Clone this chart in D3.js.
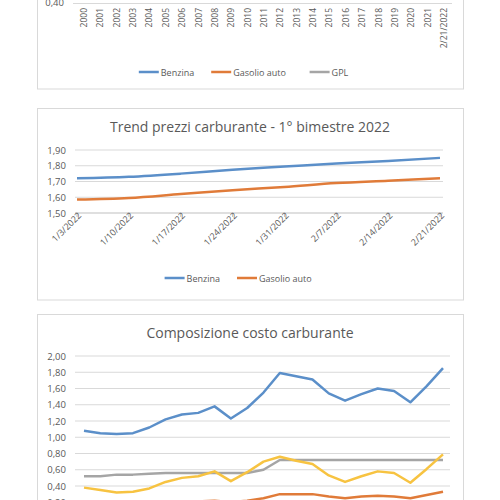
<!DOCTYPE html>
<html><head><meta charset="utf-8">
<script src="https://cdn.jsdelivr.net/npm/d3@7"></script>
<style>
body{margin:0;background:#fff;}
svg{display:block;font-family:"Open Sans","Liberation Sans",sans-serif;}
text{fill:#595959;}
</style></head>
<body><svg id="chart" width="500" height="500"></svg>
<script>
// chart 1 (only bottom visible)
const yearsAll = ['2000','2001','2002','2003','2004','2005','2006','2007','2008','2009','2010','2011','2012','2013','2014','2015','2016','2017','2018','2019','2020','2021','2/21/2022'];
// chart 2
const weeks = ['1/3/2022','1/10/2022','1/17/2022','1/24/2022','1/31/2022','2/7/2022','2/14/2022','2/21/2022'];
const benzinaWeek = [1.72,1.73,1.75,1.775,1.795,1.815,1.83,1.85];
const gasolioWeek = [1.585,1.595,1.62,1.645,1.665,1.69,1.705,1.72];
const ticks2 = [1.5,1.6,1.7,1.8,1.9];
// chart 3
const costBlue = [1.08,1.05,1.04,1.05,1.12,1.22,1.28,1.30,1.38,1.23,1.36,1.55,1.79,1.75,1.71,1.54,1.45,1.53,1.60,1.57,1.43,1.63,1.85];
const costGray = [0.52,0.52,0.54,0.54,0.55,0.56,0.56,0.56,0.56,0.56,0.56,0.60,0.72,0.72,0.72,0.72,0.72,0.72,0.72,0.72,0.72,0.72,0.72];
const costYellow = [0.38,0.35,0.32,0.33,0.37,0.45,0.50,0.52,0.58,0.46,0.57,0.70,0.76,0.71,0.67,0.53,0.45,0.52,0.58,0.56,0.44,0.61,0.79];
const costOrange = [0.20,0.19,0.18,0.18,0.19,0.20,0.21,0.21,0.22,0.20,0.22,0.25,0.30,0.30,0.30,0.27,0.25,0.27,0.28,0.27,0.25,0.29,0.33];
const ticks3 = [0.2,0.4,0.6,0.8,1.0,1.2,1.4,1.6,1.8,2.0];

const colors = {blue:'#5b8fc9', orange:'#e07b39', gray:'#a5a5a5', yellow:'#f7c341'};
const fmt = d3.format('.2f');
const comma = v => fmt(v).replace('.', ',');
const svg = d3.select('#chart');
const grid = '#d9d9d9';

// draw a box frame
const frame = (y0, y1) => svg.append('rect')
	.attr('x', 37.5).attr('y', y0).attr('width', 426).attr('height', y1 - y0)
	.attr('fill', '#fff').attr('stroke', '#d9d9d9');

// legend helper
const legend = (y, items) => {
	let widths = items.map(d => 22 + d.label.length * 5.2 + 14);
	let total = d3.sum(widths);
	let x = 250 - total / 2;
	items.forEach((d, i) => {
		svg.append('line').attr('x1', x).attr('x2', x + 20).attr('y1', y).attr('y2', y)
			.attr('stroke', d.color).attr('stroke-width', 2.5);
		svg.append('text').attr('x', x + 22).attr('y', y + 3.5)
			.attr('font-size', 9).text(d.label);
		x += widths[i];
	});
};

// ---- chart 1 ----
frame(-20, 89);
{
	const x = d3.scalePoint().domain(yearsAll).range([84, 444]);
	svg.append('line').attr('x1', 73).attr('x2', 452).attr('y1', 3.5).attr('y2', 3.5).attr('stroke', grid);
	svg.append('text').attr('x', 64).attr('y', 6).attr('text-anchor', 'end').attr('font-size', 9.5).text('0,40');
	svg.append('g').selectAll('text').data(yearsAll).join('text')
		.attr('transform', d => `translate(${x(d) + 3},8) rotate(-90)`)
		.attr('text-anchor', 'end').attr('font-size', 8.5).text(d => d);
	legend(72, [{label:'Benzina', color:colors.blue}, {label:'Gasolio auto', color:colors.orange}, {label:'GPL', color:colors.gray}]);
}

// ---- chart 2 ----
frame(108.5, 300);
{
	svg.append('text').attr('x', 250).attr('y', 132).attr('text-anchor', 'middle')
		.attr('font-size', 14).text('Trend prezzi carburante - 1° bimestre 2022');
	const x = d3.scalePoint().domain(weeks).range([77, 440]);
	const y = d3.scaleLinear().domain([1.5, 1.9]).range([213, 150]);
	svg.append('g').selectAll('line').data(ticks2).join('line')
		.attr('x1', 75).attr('x2', 443).attr('y1', d => y(d)).attr('y2', d => y(d))
		.attr('stroke', d => d === 1.5 ? '#bfbfbf' : grid);
	svg.append('g').selectAll('text').data(ticks2).join('text')
		.attr('x', 66).attr('y', d => y(d) + 3.5).attr('text-anchor', 'end').attr('font-size', 9.5)
		.text(comma);
	svg.append('g').selectAll('line').data(weeks).join('line')
		.attr('x1', d => x(d)).attr('x2', d => x(d)).attr('y1', 213).attr('y2', 217).attr('stroke', '#bfbfbf');
	svg.append('g').selectAll('text').data(weeks).join('text')
		.attr('transform', d => `translate(${x(d) + 5},216) rotate(-45)`)
		.attr('text-anchor', 'end').attr('font-size', 9).text(d => d);
	const line = d3.line().x((d, i) => x(weeks[i])).y(d => y(d)).curve(d3.curveMonotoneX);
	[[benzinaWeek, colors.blue], [gasolioWeek, colors.orange]].forEach(([s, c]) => {
		svg.append('path').attr('d', line(s)).attr('fill', 'none').attr('stroke', c).attr('stroke-width', 2.5);
	});
	legend(278, [{label:'Benzina', color:colors.blue}, {label:'Gasolio auto', color:colors.orange}]);
}

// ---- chart 3 ----
frame(314.5, 540);
{
	svg.append('text').attr('x', 250).attr('y', 338).attr('text-anchor', 'middle')
		.attr('font-size', 14).text('Composizione costo carburante');
	const x = d3.scalePoint().domain(yearsAll).range([84, 443]);
	const y = d3.scaleLinear().domain([0.4, 2.0]).range([486, 356]);
	svg.append('g').selectAll('line').data(ticks3).join('line')
		.attr('x1', 75).attr('x2', 450).attr('y1', d => y(d)).attr('y2', d => y(d)).attr('stroke', grid);
	svg.append('g').selectAll('text').data(ticks3).join('text')
		.attr('x', 66).attr('y', d => y(d) + 3.5).attr('text-anchor', 'end').attr('font-size', 9.5)
		.text(comma);
	const line = d3.line().x((d, i) => x(yearsAll[i])).y(d => y(d));
	[[costOrange, colors.orange], [costGray, colors.gray], [costYellow, colors.yellow], [costBlue, colors.blue]].forEach(([s, c]) => {
		svg.append('path').attr('d', line(s)).attr('fill', 'none').attr('stroke', c)
			.attr('stroke-width', 2.5).attr('stroke-linejoin', 'round');
	});
}
</script></body></html>
